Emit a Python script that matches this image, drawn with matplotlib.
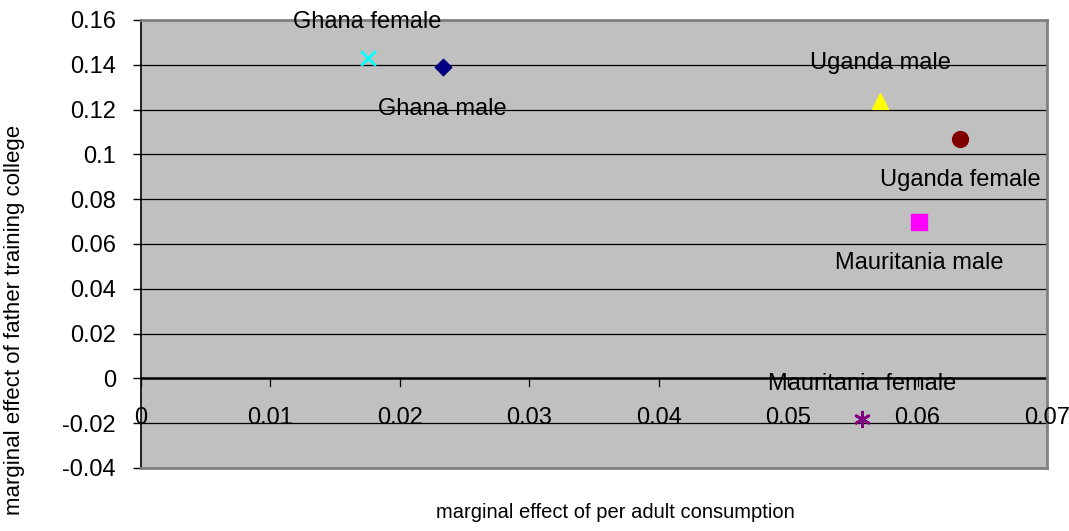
import numpy as np
import matplotlib.pyplot as plt

# marginal effects
labels = ['Ghana female', 'Ghana male', 'Uganda male', 'Uganda female',
          'Mauritania male', 'Mauritania female']
x_vals = [0.0175, 0.0233, 0.0571, 0.0633, 0.0601, 0.0557]
y_vals = [0.143, 0.139, 0.124, 0.107, 0.070, -0.018]
markers = ['x', 'D', '^', 'o', 's', (6, 2, 0)]
colors = ['#00ffff', '#000080', '#ffff00', '#800000', '#ff00ff', '#800080']
sizes = [110, 70, 130, 130, 120, 110]
# label offsets in points (dx, dy)
offsets = [(0, 26), (0, -30), (0, 27), (0, -30), (0, -30), (0, 25)]

xticks = [0, 0.01, 0.02, 0.03, 0.04, 0.05, 0.06, 0.07]
yticks = [-0.04, -0.02, 0, 0.02, 0.04, 0.06, 0.08, 0.1, 0.12, 0.14, 0.16]

plt.rcParams['font.family'] = ['Liberation Sans Narrow', 'Liberation Sans', 'DejaVu Sans']

fig = plt.figure(figsize=(10.69, 5.31), dpi=100)
ax = fig.add_axes([141 / 1069, 1 - 468 / 531, (1047 - 141) / 1069, (468 - 20) / 531])
ax.set_facecolor('#c0c0c0')
ax.set_xlim(0, 0.07)
ax.set_ylim(-0.04, 0.16)

for y in yticks:
    ax.axhline(y, color='black', lw=0.9 if y != 0 else 1.8, zorder=1)

for i in range(len(labels)):
    if markers[i] in ('x', (6, 2, 0)):
        ax.scatter(x_vals[i], y_vals[i], marker=markers[i], s=sizes[i],
                   c=colors[i], linewidths=2, zorder=3)
    else:
        ax.scatter(x_vals[i], y_vals[i], marker=markers[i], s=sizes[i],
                   c=colors[i], edgecolors=colors[i], zorder=3)
    ax.annotate(labels[i], (x_vals[i], y_vals[i]), xytext=offsets[i],
                textcoords='offset points', ha='center', va='center',
                fontsize=17, zorder=4)

# y axis
ax.set_yticks(yticks)
ax.set_yticklabels(['%g' % v for v in yticks], fontsize=17)
ax.tick_params(axis='y', direction='out', length=6, width=1, color='black', pad=12)

# x axis crosses at y=0, tick labels drawn just below it
ax.set_xticks([])
for xt in xticks:
    ax.plot([xt, xt], [0, -0.0035], color='black', lw=0.9, zorder=2, clip_on=False)
    ax.text(xt, -0.0175, '%g' % xt, ha='center', va='center', fontsize=17, zorder=4)

ax.spines['left'].set_color('black')
ax.spines['left'].set_linewidth(1.2)
for s in ['top', 'right', 'bottom']:
    ax.spines[s].set_color('#808080')
    ax.spines[s].set_linewidth(2)

fig.text(615 / 1069, 1 - 512 / 531, 'marginal effect of per adult consumption',
         ha='center', va='center', fontsize=14.5)
fig.text(15 / 1069, 1 - 320 / 531, 'marginal effect of father training college',
         ha='center', va='center', rotation=90, fontsize=16)

fig.savefig('out.png', dpi=100)
